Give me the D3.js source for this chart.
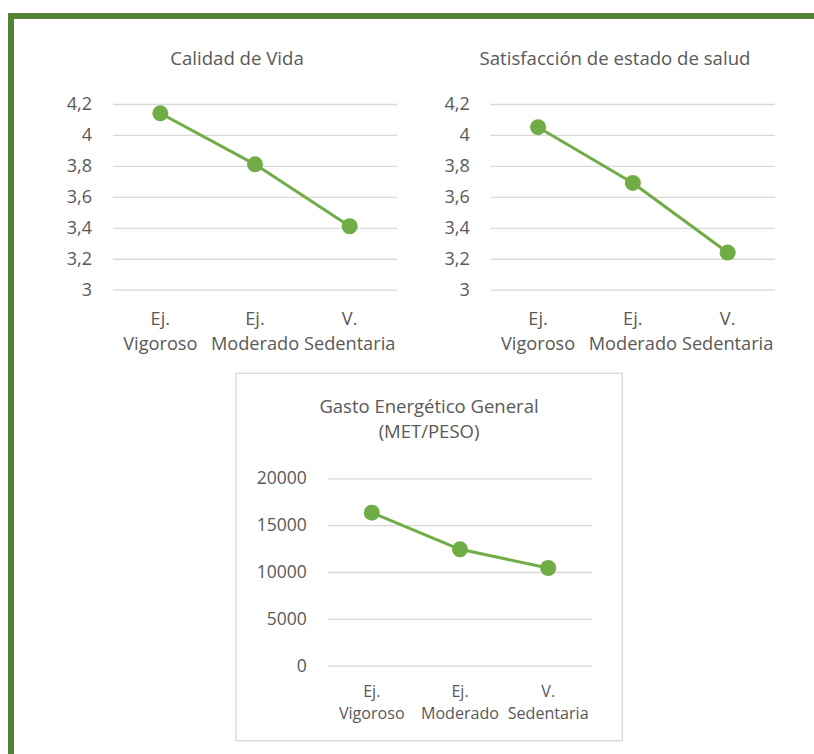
<!DOCTYPE html>
<html>
<head>
<meta charset="utf-8">
<script src="https://cdn.jsdelivr.net/npm/d3@7"></script>
<style>
  html, body { margin: 0; padding: 0; background: #fff; }
  svg { display: block; }
  text { font-family: "Open Sans", sans-serif; fill: #595959; }
</style>
</head>
<body>
<svg id="chart" width="814" height="754"></svg>
<script>
// Activity groups shown on every x axis
const categories = ["Ej. Vigoroso", "Ej. Moderado", "V. Sedentaria"];

// Mean scores per group
const calidadVida = [4.14, 3.81, 3.41];
const satisfaccionSalud = [4.05, 3.69, 3.24];
const gastoEnergetico = [16330, 12420, 10430];

// Axis ticks
const scoreTicks = [3, 3.2, 3.4, 3.6, 3.8, 4, 4.2];
const gastoTicks = [0, 5000, 10000, 15000, 20000];

const titles = [
  ["Calidad de Vida"],
  ["Satisfacción de estado de salud"],
  ["Gasto Energético General", "(MET/PESO)"]
];

const svg = d3.select("#chart");
const lineColor = "#70ad47";
const gridColor = "#d9d9d9";

// Frame along the top and left edges
svg.append("path")
  .attr("d", "M11,754V16H814")
  .attr("fill", "none")
  .attr("stroke", "#548235")
  .attr("stroke-width", 6);

const comma = d => String(d).replace(".", ",");

function drawChart(cfg) {
  const g = svg.append("g");

  if (cfg.box) {
    g.append("rect")
      .attr("x", cfg.box[0]).attr("y", cfg.box[1])
      .attr("width", cfg.box[2]).attr("height", cfg.box[3])
      .attr("fill", "#fff")
      .attr("stroke", gridColor)
      .attr("stroke-width", 1.3);
  }

  const x = d3.scaleBand()
    .domain(categories)
    .range([cfg.left, cfg.right]);

  const y = d3.scaleLinear()
    .domain(cfg.domain)
    .range([cfg.bottom, cfg.top]);

  // Gridlines with value labels
  const axis = g.append("g")
    .attr("transform", `translate(${cfg.left},0)`)
    .call(d3.axisLeft(y)
      .tickValues(cfg.ticks)
      .tickSize(-(cfg.right - cfg.left))
      .tickPadding(cfg.tickPad)
      .tickFormat(cfg.format));
  axis.select(".domain").remove();
  axis.selectAll(".tick line")
    .attr("stroke", gridColor)
    .attr("stroke-width", 1.3);
  axis.selectAll(".tick text")
    .attr("fill", "#595959")
    .style("font-family", '"Open Sans", sans-serif')
    .style("font-size", cfg.tickSize + "px");

  // Category labels on two lines
  const labels = g.append("g").selectAll("text")
    .data(categories)
    .join("text")
    .attr("text-anchor", "middle")
    .style("font-size", cfg.catSize + "px")
    .attr("x", d => x(d) + x.bandwidth() / 2);
  labels.append("tspan")
    .attr("x", d => x(d) + x.bandwidth() / 2)
    .attr("y", cfg.catY[0])
    .attr("dy", "0.35em")
    .text(d => d.slice(0, d.indexOf(" ")));
  labels.append("tspan")
    .attr("x", d => x(d) + x.bandwidth() / 2)
    .attr("y", cfg.catY[1])
    .attr("dy", "0.35em")
    .text(d => d.slice(d.indexOf(" ") + 1));

  // Title
  cfg.title.forEach((t, i) => {
    g.append("text")
      .attr("x", cfg.titleX)
      .attr("y", cfg.titleY[i])
      .attr("dy", "0.35em")
      .attr("text-anchor", "middle")
      .style("font-size", cfg.titleSize + "px")
      .text(t);
  });

  // Series line and markers
  const pts = categories.map((c, i) => [x(c) + x.bandwidth() / 2, y(cfg.values[i])]);
  g.append("path")
    .attr("d", d3.line()(pts))
    .attr("fill", "none")
    .attr("stroke", lineColor)
    .attr("stroke-width", 3)
    .attr("stroke-linejoin", "round");
  g.selectAll("circle")
    .data(pts)
    .join("circle")
    .attr("cx", d => d[0])
    .attr("cy", d => d[1])
    .attr("r", 8)
    .attr("fill", lineColor);
}

drawChart({
  values: calidadVida, title: titles[0],
  left: 113, right: 397, top: 104, bottom: 289.7,
  domain: [3, 4.2], ticks: scoreTicks, format: comma,
  tickPad: 21, tickSize: 18, catSize: 18.2, catY: [318.5, 343.5],
  titleX: 237, titleY: [58], titleSize: 18.6
});

drawChart({
  values: satisfaccionSalud, title: titles[1],
  left: 490.7, right: 775, top: 104, bottom: 289.7,
  domain: [3, 4.2], ticks: scoreTicks, format: comma,
  tickPad: 21, tickSize: 18, catSize: 18.2, catY: [318.5, 343.5],
  titleX: 615, titleY: [58], titleSize: 18.6
});

drawChart({
  values: gastoEnergetico, title: titles[2],
  box: [236, 373.3, 386.3, 367.4],
  left: 327.7, right: 592.3, top: 478.3, bottom: 665.7,
  domain: [0, 20000], ticks: gastoTicks, format: d => String(d),
  tickPad: 21, tickSize: 17.5, catSize: 16.1, catY: [691, 713.3],
  titleX: 429, titleY: [406.7, 431.7], titleSize: 18.5
});
</script>
</body>
</html>
